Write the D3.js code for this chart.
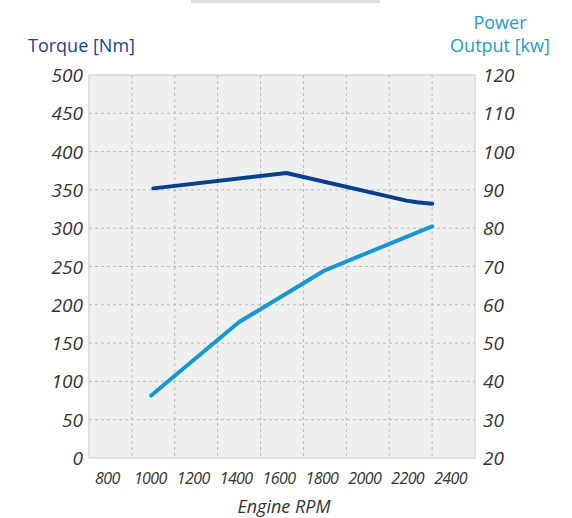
<!DOCTYPE html>
<html>
<head>
<meta charset="utf-8">
<script src="https://cdn.jsdelivr.net/npm/d3@7"></script>
<style>
  html, body { margin: 0; padding: 0; background: #fff; }
  svg text { font-family: "Open Sans", "DejaVu Sans", sans-serif; }
</style>
</head>
<body>
<svg id="chart" width="572" height="518"></svg>
<script>
// Courbes moteur : couple (axe gauche) et puissance (axe droit) selon le régime.
const rpmTicks = [800, 1000, 1200, 1400, 1600, 1800, 2000, 2200, 2400];
const rpmGrid = [900, 1100, 1300, 1500, 1700, 1900, 2100, 2300];
const torqueTicks = [0, 50, 100, 150, 200, 250, 300, 350, 400, 450, 500];
const powerTicks = [20, 30, 40, 50, 60, 70, 80, 90, 100, 110, 120];

const torqueRpm = [1000, 1620, 2180, 2230, 2300];
const torqueNm = [352, 372, 336, 334, 332];
const powerRpm = [990, 1400, 1800, 2300];
const powerKw = [36.3, 55.5, 69, 80.5];

const svg = d3.select('#chart');
const PLOT = { left: 89, right: 475, top: 75, bottom: 458 };

const x = d3.scaleLinear().domain([700, 2500]).range([PLOT.left, PLOT.right]);
const yT = d3.scaleLinear().domain([0, 500]).range([PLOT.bottom, PLOT.top]);
const yP = d3.scaleLinear().domain([20, 120]).range([PLOT.bottom, PLOT.top]);

// bandeau gris en haut
svg.append('rect').attr('x', 191).attr('y', 0).attr('width', 189).attr('height', 3).attr('fill', '#dcdcdc');

// fond du graphique
svg.append('rect')
  .attr('x', PLOT.left).attr('y', PLOT.top)
  .attr('width', PLOT.right - PLOT.left).attr('height', PLOT.bottom - PLOT.top)
  .attr('fill', '#eeefef').attr('stroke', '#cfd0d0').attr('stroke-width', 1.2);

const grid = svg.append('g').attr('stroke', '#b9b9b9').attr('stroke-width', 1).attr('stroke-dasharray', '3,3');
grid.selectAll('line.v').data(rpmGrid).enter().append('line')
  .attr('x1', d => x(d)).attr('x2', d => x(d))
  .attr('y1', PLOT.top).attr('y2', PLOT.bottom);
grid.selectAll('line.h').data(torqueTicks.filter(d => d > 0 && d < 500)).enter().append('line')
  .attr('x1', PLOT.left).attr('x2', PLOT.right)
  .attr('y1', d => yT(d)).attr('y2', d => yT(d));

const tickStyle = sel => sel.style('font-style', 'italic').style('fill', '#333');

// axe gauche
svg.append('g').selectAll('text').data(torqueTicks).enter().append('text')
  .attr('x', 83).attr('y', d => yT(d) + 7)
  .attr('text-anchor', 'end')
  .style('font-size', '19px')
  .call(tickStyle)
  .text(d => d);

// axe droit
svg.append('g').selectAll('text').data(powerTicks).enter().append('text')
  .attr('x', 483).attr('y', d => yP(d) + 7)
  .style('font-size', '19px')
  .call(tickStyle)
  .text(d => d);

// axe bas
svg.append('g').selectAll('text').data(rpmTicks).enter().append('text')
  .attr('x', d => x(d) - 3).attr('y', 484)
  .attr('text-anchor', 'middle')
  .style('font-size', '16px')
  .style('letter-spacing', '-0.6px')
  .call(tickStyle)
  .text(d => d);

svg.append('text').attr('x', 284).attr('y', 513).attr('text-anchor', 'middle')
  .style('font-size', '18px')
  .call(tickStyle)
  .text('Engine RPM');

svg.append('text').attr('x', 28).attr('y', 52)
  .style('font-size', '18px').style('fill', '#1c3f94')
  .text('Torque [Nm]');

const pTitle = svg.append('text').attr('text-anchor', 'middle')
  .style('font-size', '18px').style('fill', '#1a9ad6');
pTitle.append('tspan').attr('x', 500).attr('y', 29).text('Power');
pTitle.append('tspan').attr('x', 500).attr('y', 52).text('Output [kw]');

// courbes
svg.append('path')
  .datum(d3.zip(torqueRpm, torqueNm))
  .attr('fill', 'none').attr('stroke', '#023f8f').attr('stroke-width', 4)
  .attr('stroke-linecap', 'round').attr('stroke-linejoin', 'round')
  .attr('d', d3.line().x(d => x(d[0])).y(d => yT(d[1])));

svg.append('path')
  .datum(d3.zip(powerRpm, powerKw))
  .attr('fill', 'none').attr('stroke', '#1896d3').attr('stroke-width', 4)
  .attr('stroke-linecap', 'round').attr('stroke-linejoin', 'round')
  .attr('d', d3.line().x(d => x(d[0])).y(d => yP(d[1])));
</script>
</body>
</html>
